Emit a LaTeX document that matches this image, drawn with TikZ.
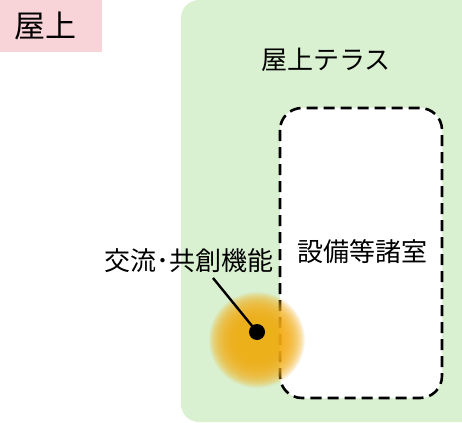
\documentclass[tikz,border=0pt]{standalone}
\usepackage{fontspec}
\newfontfamily\jpfont{Noto Sans CJK JP}

\definecolor{roofpink}{RGB}{248,212,216}
\definecolor{terracegreen}{RGB}{217,241,209}
\definecolor{glowyellow}{RGB}{245,176,24}

\begin{document}
\begin{tikzpicture}[x=1pt, y=-1pt, line cap=butt]
    \tikzset{
        jptext/.style={font=\jpfont\fontsize{26}{30}\selectfont, inner sep=0pt},
        roombox/.style={draw=black, fill=white, line width=2.6pt, dash pattern=on 11pt off 6pt, rounded corners=22pt}
    }
    \clip (0,0) rectangle (462,422);

    % Roof tag
    \fill[roofpink] (0,0) rectangle (102,52);
    \node[jptext, font=\jpfont\fontsize{31}{36}\selectfont] (rooftag) at (45,26) {屋上};

    % Terrace
    \fill[terracegreen, rounded corners=18pt] (181,0) rectangle (500,422);
    \node[jptext] (terrace) at (326,60) {屋上テラス};

    % Equipment rooms
    \draw[roombox] (280,108) rectangle (442,398);
    \node[jptext] (rooms) at (362,252) {設備等諸室};

    % Exchange point (soft glow)
    \foreach \r in {48,47,...,18}
        \fill[glowyellow, opacity=0.1] (257,340) circle (\r);
    \node[circle, fill=black, inner sep=0pt, minimum size=16pt] (dot) at (257,332) {};
    \node[jptext] (exchange) at (189,261) {交流･共創機能};
    \coordinate (leadstart) at (213,278);
    \draw[line width=2.4pt] (leadstart) -- (dot.center);
\end{tikzpicture}
\end{document}
